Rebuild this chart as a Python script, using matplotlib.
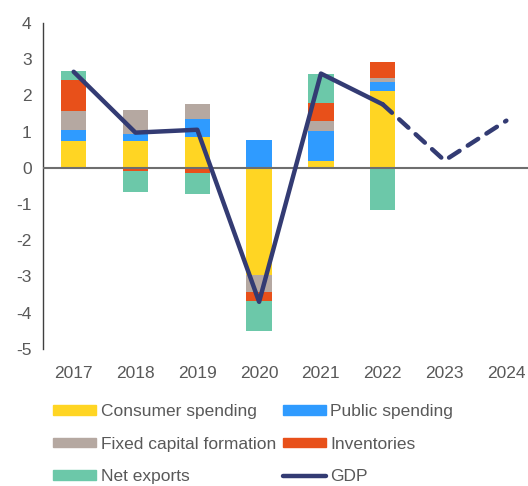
import numpy as np
import matplotlib.pyplot as plt
from matplotlib.lines import Line2D
from matplotlib.patches import Patch

plt.rcParams['font.family'] = ['Liberation Sans', 'DejaVu Sans']
plt.rcParams['axes.unicode_minus'] = False

years = ['2017', '2018', '2019', '2020', '2021', '2022', '2023', '2024']
consumer = [0.73, 0.75, 0.84, -2.96, 0.20, 2.12, 0, 0]
public = [0.32, 0.17, 0.50, 0.78, 0.81, 0.24, 0, 0]
fixed = [0.53, 0.68, 0.43, -0.48, 0.27, 0.11, 0, 0]
inventories = [0.85, -0.09, -0.15, -0.24, 0.51, 0.44, 0, 0]
net_exports = [0.24, -0.57, -0.58, -0.83, 0.81, -1.17, 0, 0]
gdp = [2.65, 0.97, 1.05, -3.7, 2.6, 1.75, 0.2, 1.3]

series = [
    ('Consumer spending', consumer, '#FFD523'),
    ('Public spending', public, '#2F9BFF'),
    ('Fixed capital formation', fixed, '#B5A8A1'),
    ('Inventories', inventories, '#E8501A'),
    ('Net exports', net_exports, '#6CC8A9'),
]
gdp_color = '#333B73'
grey = '#595959'

fig = plt.figure(figsize=(5.28, 4.86), dpi=100)
ax = fig.add_axes([0.081, 0.282, 0.919, 0.671])

x = np.arange(len(years))
pos = np.zeros(len(years))
neg = np.zeros(len(years))
for name, vals, col in series:
    v = np.array(vals, dtype=float)
    bottom = np.where(v >= 0, pos, neg)
    ax.bar(x, v, 0.41, bottom=bottom, color=col, zorder=2)
    pos = pos + np.where(v > 0, v, 0)
    neg = neg + np.where(v < 0, v, 0)

ax.axhline(0, color='#6e6e6e', lw=1.5, zorder=3)
ax.plot(x[:6], gdp[:6], color=gdp_color, lw=3.2, solid_capstyle='round', solid_joinstyle='round', zorder=4)
ax.plot(x[5:], gdp[5:], color=gdp_color, lw=3.2, ls=(0, (2.8, 2.2)), dash_capstyle='round', zorder=4)

ax.set_xlim(-0.5, 7.5 - 0.15)
ax.set_ylim(-5, 4)
ax.set_yticks(range(-5, 5))
ax.set_xticks(x)
ax.set_xticklabels(years)
ax.tick_params(axis='both', length=0, labelsize=12.5, colors=grey)
ax.tick_params(axis='x', pad=12)
ax.tick_params(axis='y', pad=8)
for s in ['top', 'right', 'bottom']:
    ax.spines[s].set_visible(False)
ax.spines['left'].set_color('#404040')
ax.spines['left'].set_linewidth(1.0)

handles = [Patch(color=c) for _, _, c in series]
labels = [n for n, _, _ in series]
handles.append(Line2D([0], [0], color=gdp_color, lw=3.2, solid_capstyle='round'))
labels.append('GDP')
# legend fills column-wise, so reorder to read row by row
order = [0, 2, 4, 1, 3, 5]
leg = fig.legend([handles[i] for i in order], [labels[i] for i in order], ncol=2,
                 loc='upper left', bbox_to_anchor=(0.1, 0.168), frameon=False,
                 fontsize=12.5, handlelength=2.5, handleheight=0.5,
                 handletextpad=0.25, columnspacing=0.4, labelspacing=1.0,
                 borderpad=0, borderaxespad=0)
for t in leg.get_texts():
    t.set_color(grey)

fig.savefig('out.png', dpi=100)
